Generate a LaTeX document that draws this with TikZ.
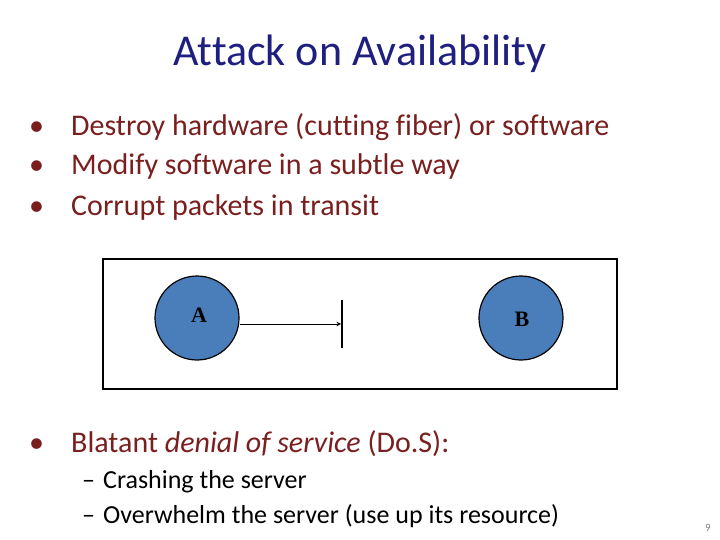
\documentclass[tikz,border=0pt]{standalone}
\usepackage{fontspec}
\setmainfont{Carlito}[Ligatures={NoCommon}]
\definecolor{ttl}{HTML}{1F1F80}
\definecolor{bul}{HTML}{7A1F1F}
\definecolor{circ}{HTML}{4A7EBB}
\begin{document}
\begin{tikzpicture}[x=1pt,y=-1pt,
  bl/.style={anchor=base west,inner sep=0,text=bul,font=\fontsize{30}{34}\selectfont},
  dot/.style={anchor=base west,inner sep=0,text=bul,font=\fontsize{30}{34}\selectfont},
  sb/.style={anchor=base west,inner sep=0,font=\fontsize{26}{30}\selectfont},
  host/.style={circle,draw,line width=1.2pt,fill=circ,minimum size=84pt,inner sep=0}]
\useasboundingbox (0,0) rectangle (720,540);
\node[anchor=base,text=ttl,font=\fontsize{44}{50}\selectfont] (t) at (360,66) {Attack on Availability};
\node[dot] (d1) at (29,136) {•};
\node[bl] (b1) at (71,136) {Destroy hardware (cutting fiber) or software};
\node[dot] (d2) at (29,175) {•};
\node[bl] (b2) at (71,175) {Modify software in a subtle way};
\node[dot] (d3) at (29,215) {•};
\node[bl] (b3) at (71,215) {Corrupt packets in transit};
\node[draw,line width=1.5pt,minimum width=514pt,minimum height=130pt,inner sep=0] (box) at (360,324) {};
\node[host] (A) at (197,318) {};
\node[anchor=base,inner sep=0,font=\fontspec{Liberation Serif}\bfseries\fontsize{22}{24}\selectfont] (la) at (199,322) {A};
\node[host] (B) at (521,318) {};
\node[anchor=base,inner sep=0,font=\fontspec{Liberation Serif}\bfseries\fontsize{22}{24}\selectfont] (lb) at (522,326) {B};
\coordinate (e) at (341,324);
\coordinate (bt) at (342,300);
\coordinate (bb) at (342,348);
\draw[line width=1pt,-stealth] (A.east |- e) -- (e);
\draw[line width=1.2pt] (bt) -- (bb);
\node[dot] (d4) at (29,452) {•};
\node[bl] (b4) at (71,452) {Blatant \textit{denial of service} (Do.S):};
\node[sb] (s1) at (82,488) {–};
\node[sb] (s1t) at (103,488) {Crashing the server};
\node[sb] (s2) at (82,523) {–};
\node[sb] (s2t) at (103,523) {Overwhelm the server (use up its resource)};
\node[anchor=base,text=gray,font=\fontsize{11}{12}\selectfont] (pg) at (708,531) {9};
\end{tikzpicture}
\end{document}
